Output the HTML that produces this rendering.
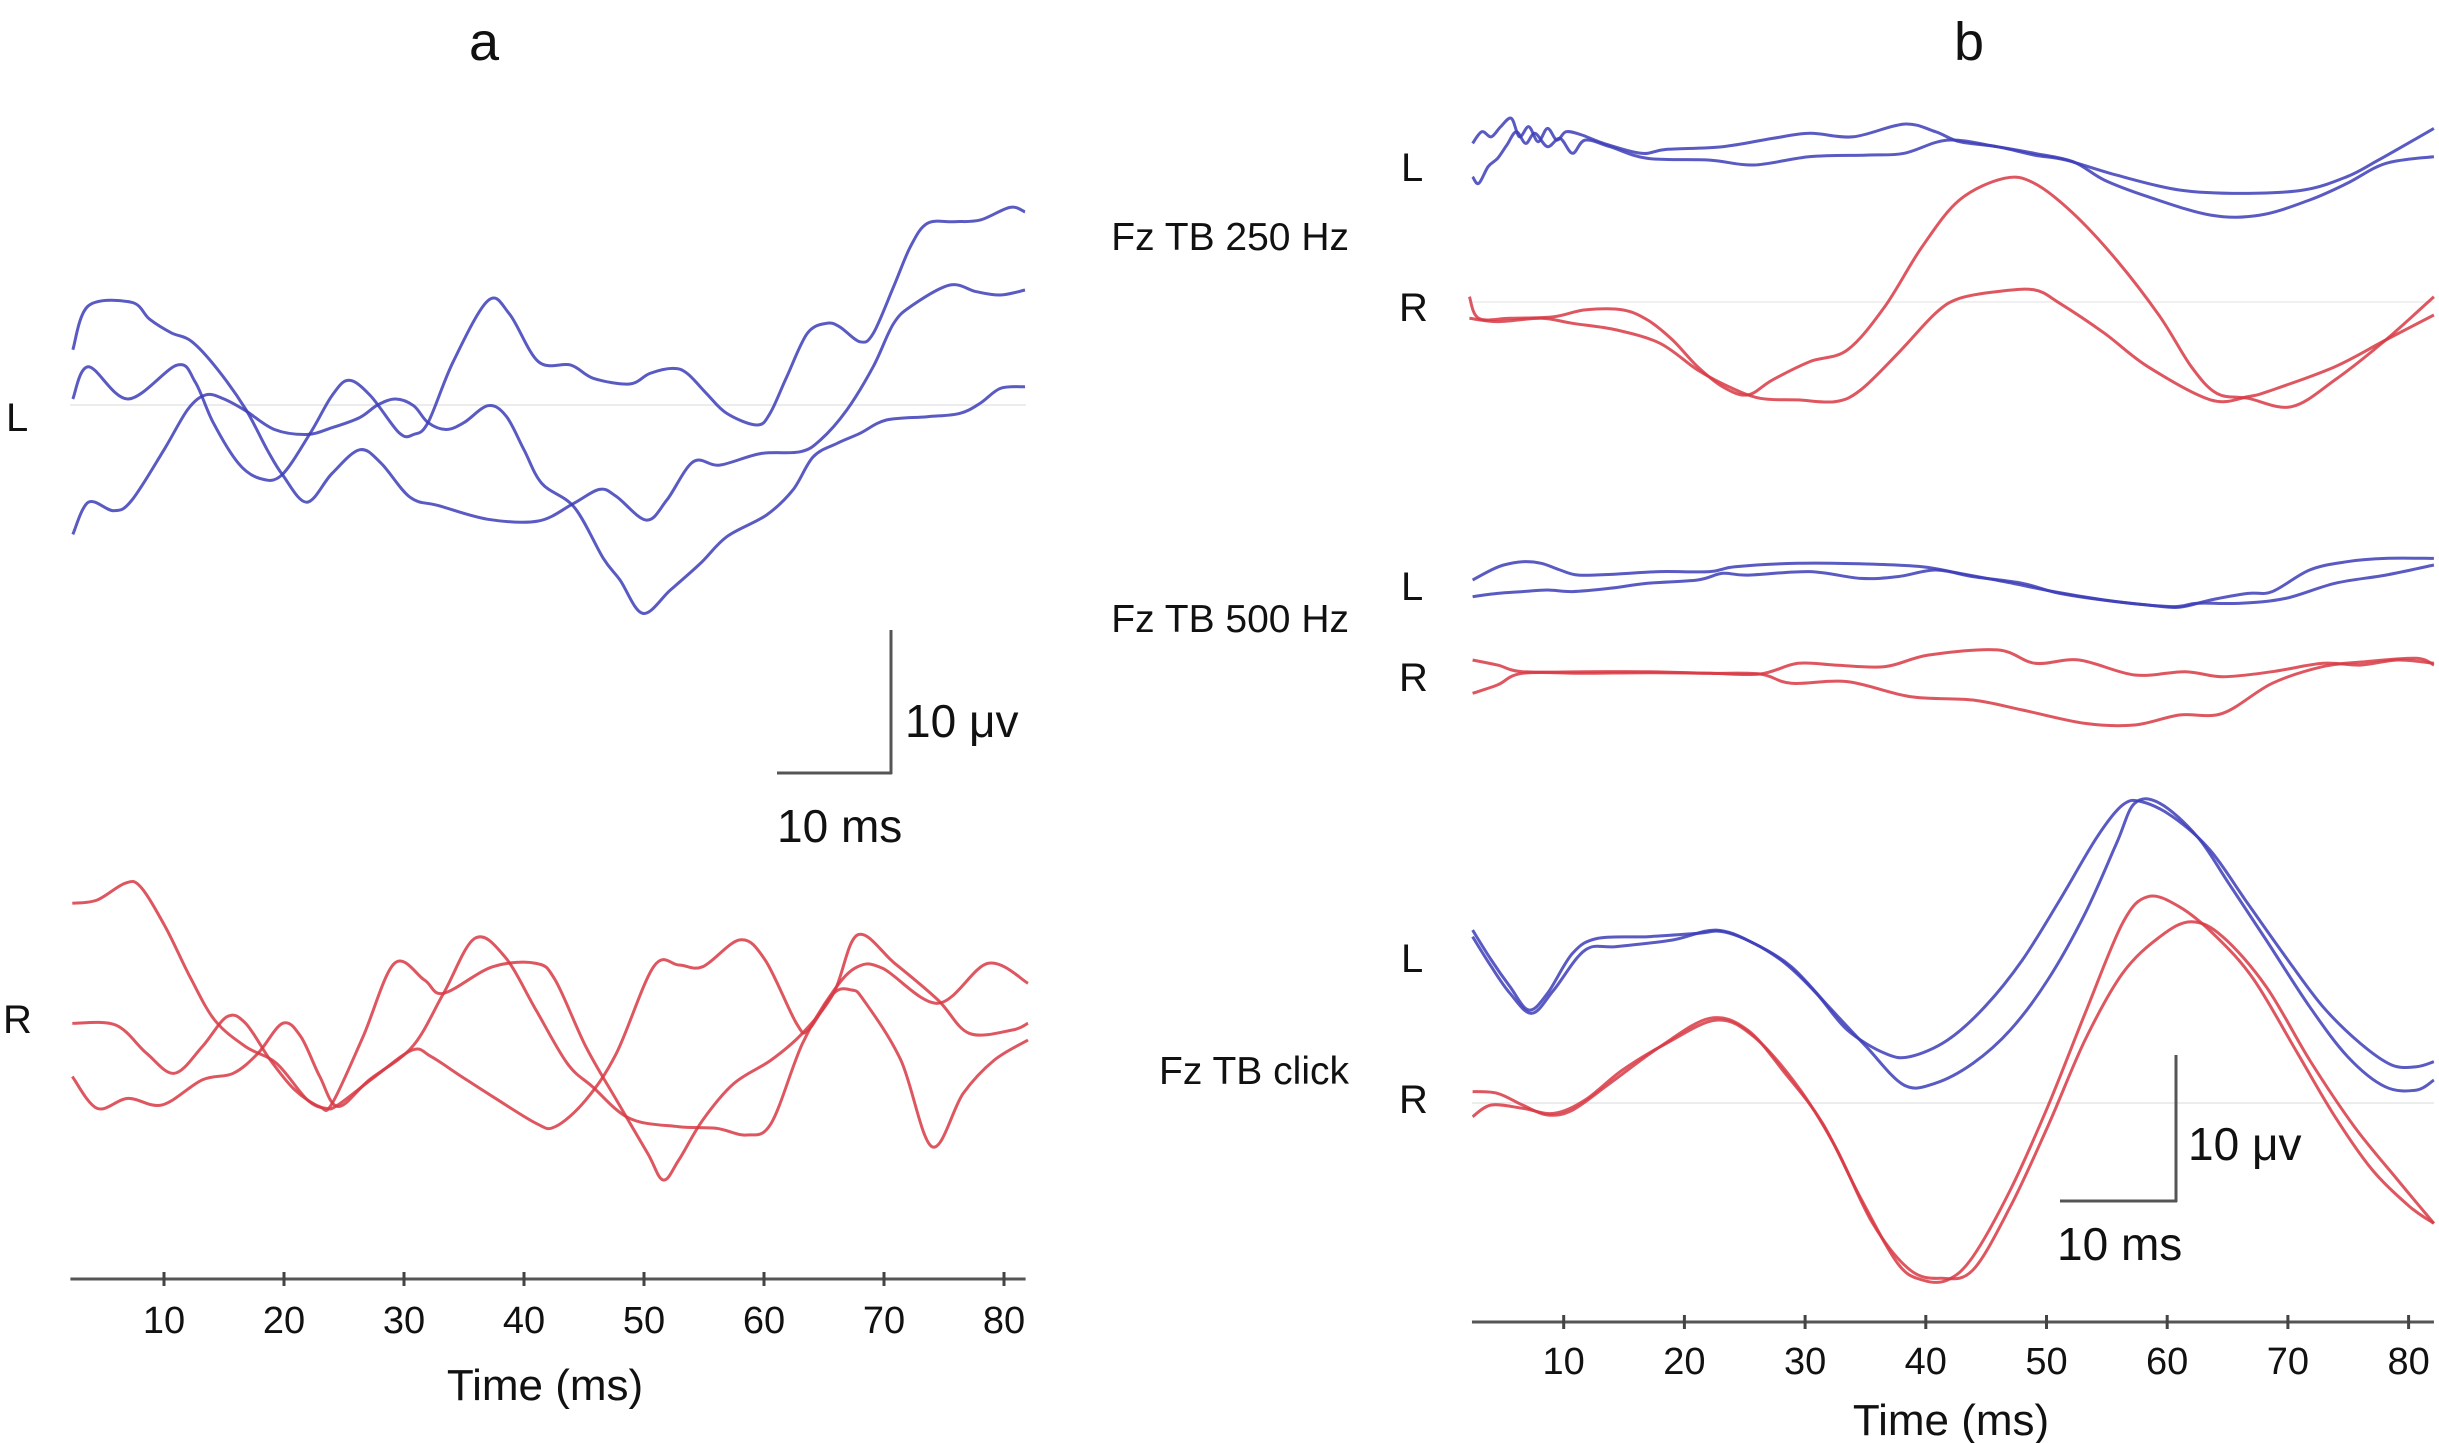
<!DOCTYPE html>
<html><head><meta charset="utf-8"><style>
html,body{margin:0;padding:0;background:#fff;}
svg{display:block;}
text{font-family:"Liberation Sans",Arial,sans-serif;fill:#111;}
</style></head><body>
<svg id="fig" width="2439" height="1443" viewBox="0 0 2439 1443" xmlns="http://www.w3.org/2000/svg">
<g id="static">
<text x="484" y="60" font-size="54" text-anchor="middle">a</text>
<text x="1969" y="60" font-size="54" text-anchor="middle">b</text>
<text x="6" y="431" font-size="40">L</text>
<text x="3" y="1033" font-size="40">R</text>
<text x="1349" y="250" font-size="39" text-anchor="end">Fz TB 250 Hz</text>
<text x="1349" y="632" font-size="39" text-anchor="end">Fz TB 500 Hz</text>
<text x="1349" y="1084" font-size="39" text-anchor="end">Fz TB click</text>
<text x="1401" y="181" font-size="40">L</text>
<text x="1399" y="321" font-size="40">R</text>
<text x="1401" y="600" font-size="40">L</text>
<text x="1399" y="691" font-size="40">R</text>
<text x="1401" y="972" font-size="40">L</text>
<text x="1399" y="1113" font-size="40">R</text>
<line x1="70" y1="405" x2="1026" y2="405" stroke="#ececec" stroke-width="2"/>
<line x1="1472" y1="302" x2="2434" y2="302" stroke="#f0f0f0" stroke-width="2"/>
<line x1="1472" y1="1103" x2="2434" y2="1103" stroke="#ececec" stroke-width="2"/>
<g stroke="#555" stroke-width="3" fill="none">
<line x1="891" y1="630" x2="891" y2="774"/><line x1="777" y1="773" x2="892" y2="773"/></g>
<text x="905" y="737" font-size="46">10 μv</text>
<text x="777" y="842" font-size="46">10 ms</text>
<g stroke="#555" stroke-width="3" fill="none">
<line x1="2176" y1="1055" x2="2176" y2="1202"/><line x1="2060" y1="1201" x2="2177" y2="1201"/></g>
<text x="2188" y="1160" font-size="46">10 μv</text>
<text x="2057" y="1260" font-size="46">10 ms</text>
<text x="545" y="1400" font-size="44" text-anchor="middle">Time (ms)</text>
<text x="1951" y="1435" font-size="44" text-anchor="middle">Time (ms)</text>
</g>
<g id="dyn"></g>
</svg>
<script>
const tickLabels = [10,20,30,40,50,60,70,80];
// Panel a, L (t ms, µV)
const aL1t = [2.4,3.7,7.3,8.8,10.6,12.3,14.4,16.8,18.6,19.9,21.9,24.0,26.3,28.1,30.5,32.9,37.0,41.2,44.1,46.3,47.7,50.2,51.9,54.1,56.3,59.7,63,64.7,66.9,69.1,70.8,72.4,75.5,77.7,79.7,81.75];
const aL1v = [3.86,6.94,7.18,6.0,5.05,4.45,2.56,-0.29,-3.13,-4.91,-6.8,-4.79,-3.13,-4.08,-6.45,-7.04,-7.99,-8.11,-6.9,-5.9,-6.4,-8.05,-6.65,-3.97,-4.2,-3.4,-3.27,-2.45,-0.35,2.68,5.7,6.99,8.39,7.92,7.69,8.04];
const aL2t = [2.4,3.7,7.0,11.1,12.6,14.1,16.2,18.0,19.8,22.2,24.0,25.4,27.2,29.6,30.8,32.0,34.1,37.0,38.8,41.2,43.9,45.8,48.8,50.5,52.4,53.6,55.2,56.9,59.4,60.5,61.9,63.6,65.2,66.3,68.0,69.1,70.8,72.2,73.6,75.8,78.0,80.5,81.75];
const aL2v = [0.42,2.68,0.42,2.79,1.61,-1.23,-4.08,-5.14,-4.91,-1.95,0.66,1.73,0.66,-1.95,-2.06,-1.23,3.03,7.3,6.35,3.03,2.79,1.86,1.47,2.21,2.56,2.21,0.81,-0.59,-1.4,-0.59,1.98,5.0,5.71,5.47,4.42,5.0,8.27,11.07,12.7,12.82,12.93,13.82,13.5];
const aL3t = [2.4,3.7,5.8,7.3,10.0,12.0,13.5,15.0,16.8,19.2,21.9,24.0,26.3,27.8,29.3,30.8,32.0,33.5,35.0,37.0,38.5,40.0,41.5,44.2,46.6,48,49.9,52.2,54.7,56.9,60.2,62.4,64.1,66.1,68.0,70.2,73.6,76.3,78.0,79.7,81.75];
const aL3v = [-9.05,-6.8,-7.39,-6.68,-3.13,-0.29,0.71,0.42,-0.4,-1.71,-2.06,-1.59,-0.88,0,0.42,-0.05,-1.23,-1.71,-1.23,-0.05,-0.76,-3.13,-5.5,-7.16,-10.71,-12.24,-14.57,-12.94,-11.08,-9.21,-7.7,-5.95,-3.62,-2.68,-1.98,-1.05,-0.82,-0.59,0.11,1.16,1.28];
// Panel a, R
const aR1t = [2.36,4.43,6.75,8.03,10.1,12.16,14.22,16.8,19.37,21.95,23.5,24.5,27.6,30.7,32.26,34.8,37.4,41.0,42.6,45.15,47.7,50.8,52.9,54.9,58.0,60.1,62.7,63.7,65.8,67.3,68.3,71.4,74.0,76.6,79.2,82.0];
const aR1v = [7.81,8.04,9.21,8.98,6.18,2.68,-0.35,-2.21,-3.38,-5.94,-6.53,-6.29,-4.3,-2.45,-2.91,-4.31,-5.71,-7.57,-7.81,-5.94,-2.68,3.38,3.5,3.38,5.25,3.84,-0.58,-1.05,1.52,1.75,1.05,-3.15,-9.21,-5.48,-3.15,-1.75];
const aR2t = [2.36,5.97,8.55,10.87,13.19,15.25,16.8,18.86,20.9,22.98,24.0,26.59,29.2,31.7,33.3,37.4,41.0,42.6,45.15,47.7,50.3,51.6,52.9,54.9,57.5,60.6,63.2,65.8,67.8,70.9,74.5,77.1,80.7,82.0];
const aR2v = [-0.58,-0.7,-2.68,-4.08,-2.21,-0.12,-0.58,-3.15,-5.24,-6.41,-6.2,-1.51,3.61,2.45,1.52,3.38,3.61,2.45,-2.21,-5.94,-9.67,-11.54,-10.14,-7.34,-4.78,-3.15,-1.28,1.52,5.6,3.61,1.05,-1.28,-1.05,-0.58];
const aR3t = [2.36,4.43,7.0,9.84,13.19,15.77,17.83,19.89,21.4,22.98,24.5,27.1,30.7,33.3,35.9,38.4,41.0,43.6,45.7,48.8,52.9,56.0,58.55,60.6,63.2,65.8,67.8,69.9,74.5,78.65,82.0];
const aR3v = [-4.31,-6.53,-5.83,-6.29,-4.54,-4.08,-2.68,-0.58,-1.51,-4.31,-6.4,-4.54,-2.21,1.52,5.36,4.08,0.35,-3.38,-5.01,-7.23,-7.81,-7.92,-8.39,-7.57,-2.0,1.7,3.38,3.26,0.82,3.61,2.22];
// Panel b, 250 Hz
const b250L1t = [2.45,3.22,4.0,4.78,5.66,6.33,7.11,7.88,8.66,9.44,10.21,11.51,13.32,16.43,18.5,23.16,27.3,30.4,34.0,38.2,40.8,42.8,45.9,49.0,51.6,55.8,61.0,66.2,71.3,74.9,77.5,82.1];
const b250L1v = [1.57,2.38,2.03,2.73,3.31,2.03,2.73,1.69,2.61,1.8,2.38,2.15,1.57,0.88,1.15,1.34,1.92,2.27,2.03,2.91,2.38,1.69,1.34,0.76,0.41,-0.63,-1.67,-1.9,-1.67,-0.74,0.41,2.61];
const b250L2t = [2.45,2.96,3.74,4.52,5.29,6.07,6.85,7.62,8.66,9.7,10.73,11.77,13.84,16.95,22.1,25.75,30.4,35.1,38.2,41.8,45.9,49.0,52.2,54.8,58.4,63.6,67.7,71.8,74.9,78.1,82.1];
const b250L2v = [-0.74,-1.21,-0.05,0.53,1.46,2.38,1.57,2.27,1.34,1.92,0.88,1.8,1.34,0.53,0.41,0.07,0.65,0.76,0.88,1.8,1.34,0.88,0.3,-0.98,-2.13,-3.41,-3.41,-2.36,-1.21,0.18,0.65];
const b250R1t = [2.19,2.96,5.55,9.18,11.77,14.87,16.95,19.02,21.09,23.16,25.23,27.3,30.4,33.5,36.6,39.7,42.8,46.5,49.0,52.2,55.8,59.4,62.0,64.1,66.7,70.3,73.9,78.1,82.1];
const b250R1v = [0.37,-1.13,-1.13,-1.02,-0.55,-0.55,-1.25,-2.64,-4.49,-5.88,-6.46,-5.41,-4.14,-3.33,-0.32,3.85,7.09,8.59,8.24,6.16,2.92,-1.02,-4.49,-6.34,-6.69,-7.27,-5.41,-2.64,0.37];
const b250R2t = [2.19,4.52,8.14,10.73,14.36,17.98,21.09,23.68,26.27,29.4,32.5,34.6,37.7,40.8,42.8,45.9,49.0,51.1,54.8,58.4,63.6,66.7,68.7,73.9,78.1,82.1];
const b250R2v = [-1.13,-1.36,-1.13,-1.48,-1.94,-2.87,-4.72,-5.88,-6.69,-6.8,-6.92,-6.11,-3.56,-0.78,0.26,0.72,0.84,-0.09,-2.17,-4.49,-6.8,-6.57,-6.11,-4.49,-2.64,-0.9];
// Panel b, 500 Hz
const b500L1t = [2.45,4.0,5.03,6.59,8.14,9.7,11.25,14.36,17.98,22.1,24.2,29.4,35.1,39.7,42.8,46.5,50.6,54.8,58.4,61.0,63.6,66.7,68.7,71.8,74.9,78.1,82.1];
const b500L1v = [0.35,1.04,1.39,1.62,1.51,1.04,0.69,0.76,0.93,0.93,1.27,1.51,1.46,1.27,0.81,0.23,-0.46,-1.04,-1.39,-1.55,-1.04,-0.58,-0.46,1.04,1.62,1.85,1.85];
const b500L2t = [2.45,4.52,6.59,8.66,10.73,13.84,16.95,21.09,23.16,25.23,30.4,34.6,37.7,40.8,43.9,48.0,51.1,55.8,60.45,62.5,66.1,69.8,73.9,78.1,82.1];
const b500L2v = [-0.81,-0.58,-0.46,-0.35,-0.46,-0.23,0.12,0.35,0.81,0.69,0.93,0.46,0.58,1.04,0.58,0.12,-0.58,-1.16,-1.5,-1.27,-1.27,-0.93,0.12,0.69,1.39];
const b500R1t = [2.45,4.52,6.59,11.77,16.95,22.1,26.27,29.4,32.5,36.6,40.25,45.95,49.05,52.7,57.3,61.5,64.6,68.7,72.9,76.0,79.1,82.1];
const b500R1v = [1.11,0.76,0.3,0.3,0.3,0.19,0.14,0.88,0.76,0.65,1.46,1.81,0.88,1.11,0.07,0.3,-0.05,0.3,0.88,0.76,1.11,0.88];
const b500R2t = [2.45,4.52,6.59,11.77,16.95,22.1,26.27,28.86,33.5,38.7,43.9,48.0,53.2,57.3,61.0,64.6,68.7,72.9,76.5,80.65,82.1];
const b500R2v = [-1.2,-0.62,0.19,0.19,0.23,0.19,0.14,-0.51,-0.39,-1.43,-1.67,-2.36,-3.29,-3.4,-2.71,-2.59,-0.51,0.65,1.0,1.23,0.76];
// Panel b, click
const bClkL1t = [2.45,4.0,5.55,7.11,8.66,10.73,12.8,16.95,21.09,23.16,25.75,28.34,30.93,33.5,36.6,38.7,41.8,44.9,48.0,51.1,54.2,56.3,57.86,60.45,63.55,66.66,69.8,72.9,76.0,78.6,80.65,82.1];
const bClkL1v = [1.87,-0.21,-2.06,-3.68,-2.52,0.25,1.29,1.41,1.64,1.76,0.95,-0.44,-2.52,-5.07,-6.69,-6.92,-5.77,-3.45,-0.21,3.96,8.35,10.55,10.79,9.74,7.43,3.73,0.02,-3.45,-6.0,-7.5,-7.62,-7.27];
const bClkL2t = [2.45,4.0,5.55,7.36,9.18,11.77,14.36,19.02,22.64,25.75,28.86,31.96,35.07,38.18,40.77,43.9,47.0,50.1,53.2,55.8,57.3,59.4,62.5,65.1,68.2,71.8,74.95,78.05,80.65,82.1];
const bClkL2v = [1.41,-0.67,-2.52,-3.91,-2.29,0.48,0.72,1.18,1.87,0.95,-0.67,-3.45,-6.23,-8.89,-8.77,-7.39,-5.07,-1.6,3.03,7.89,10.67,10.67,8.35,5.11,1.18,-3.45,-6.92,-9.01,-9.24,-8.54];
const bClkR1t = [2.45,4.52,6.59,8.66,10.73,13.84,17.98,22.1,25.23,28.34,31.45,34.55,37.66,39.73,41.8,43.9,47.0,50.1,53.2,56.3,58.4,61.0,64.07,67.2,70.8,73.9,77.0,80.1,82.1];
const bClkR1v = [0.72,0.6,-0.21,-0.9,-0.56,1.3,3.84,5.81,5.0,1.99,-1.48,-6.58,-11.2,-12.36,-12.36,-10.74,-6.11,-0.33,6.16,12.41,14.26,13.56,11.48,8.47,3.38,-1.02,-4.72,-7.27,-8.43];
const bClkR2t = [2.45,4.0,6.59,9.18,11.77,14.87,18.5,22.64,25.75,29.4,32.5,35.6,38.7,41.3,43.9,47.0,50.1,53.2,56.3,59.4,62.0,64.6,68.2,71.8,75.5,79.1,82.1];
const bClkR2v = [-1.02,-0.21,-0.44,-0.79,0.14,2.22,4.07,5.69,4.54,1.07,-3.1,-8.43,-11.67,-12.24,-11.67,-7.27,-1.71,4.31,8.93,11.48,12.52,11.48,8.01,2.92,-1.71,-5.42,-8.43];

const NS = 'http://www.w3.org/2000/svg';
const dyn = document.getElementById('dyn');
const xA = t => 44 + 12 * t;
const xB = t => 1443 + 12.07 * t;
const yScale = (base, ppu) => v => base - ppu * v;

function smoothPath(pts){
  let d = 'M' + pts[0][0].toFixed(1) + ',' + pts[0][1].toFixed(1);
  for (let i = 0; i < pts.length - 1; i++) {
    const p0 = pts[Math.max(0, i - 1)], p1 = pts[i], p2 = pts[i + 1], p3 = pts[Math.min(pts.length - 1, i + 2)];
    const c1x = p1[0] + (p2[0] - p0[0]) / 6, c1y = p1[1] + (p2[1] - p0[1]) / 6;
    const c2x = p2[0] - (p3[0] - p1[0]) / 6, c2y = p2[1] - (p3[1] - p1[1]) / 6;
    d += ' C' + c1x.toFixed(1) + ',' + c1y.toFixed(1) + ' ' + c2x.toFixed(1) + ',' + c2y.toFixed(1) + ' ' + p2[0].toFixed(1) + ',' + p2[1].toFixed(1);
  }
  return d;
}
function trace(name, ts, vs, xf, yf, color){
  const pts = ts.map((t, i) => [xf(t), yf(vs[i])]);
  const p = document.createElementNS(NS, 'path');
  p.setAttribute('d', smoothPath(pts));
  p.setAttribute('fill', 'none');
  p.setAttribute('stroke', color);
  p.setAttribute('stroke-width', '3');
  p.setAttribute('stroke-opacity', '0.85');
  
  
  dyn.appendChild(p);
}
const BLUE = '#3d3db8', RED = '#d83a44';
const yAL = yScale(405, 14.3), yAR = yScale(1015, 14.3);
trace('trace-a-l-1', aL1t, aL1v, xA, yAL, BLUE);
trace('trace-a-l-2', aL2t, aL2v, xA, yAL, BLUE);
trace('trace-a-l-3', aL3t, aL3v, xA, yAL, BLUE);
trace('trace-a-r-1', aR1t, aR1v, xA, yAR, RED);
trace('trace-a-r-2', aR2t, aR2v, xA, yAR, RED);
trace('trace-a-r-3', aR3t, aR3v, xA, yAR, RED);
const yB1L = yScale(166, 14.4), yB1R = yScale(302, 14.4), yB2L = yScale(585, 14.4), yB2R = yScale(676, 14.4), yB3L = yScale(957, 14.4), yB3R = yScale(1102, 14.4);
trace('trace-250-l-1', b250L1t, b250L1v, xB, yB1L, BLUE);
trace('trace-250-l-2', b250L2t, b250L2v, xB, yB1L, BLUE);
trace('trace-250-r-1', b250R1t, b250R1v, xB, yB1R, RED);
trace('trace-250-r-2', b250R2t, b250R2v, xB, yB1R, RED);
trace('trace-500-l-1', b500L1t, b500L1v, xB, yB2L, BLUE);
trace('trace-500-l-2', b500L2t, b500L2v, xB, yB2L, BLUE);
trace('trace-500-r-1', b500R1t, b500R1v, xB, yB2R, RED);
trace('trace-500-r-2', b500R2t, b500R2v, xB, yB2R, RED);
trace('trace-click-l-1', bClkL1t, bClkL1v, xB, yB3L, BLUE);
trace('trace-click-l-2', bClkL2t, bClkL2v, xB, yB3L, BLUE);
trace('trace-click-r-1', bClkR1t, bClkR1v, xB, yB3R, RED);
trace('trace-click-r-2', bClkR2t, bClkR2v, xB, yB3R, RED);

function axis(name, xf, y, t0, t1, labelY){
  const g = document.createElementNS(NS, 'g');
  
  
  const l = document.createElementNS(NS, 'line');
  l.setAttribute('x1', xf(t0)); l.setAttribute('x2', xf(t1));
  l.setAttribute('y1', y); l.setAttribute('y2', y);
  l.setAttribute('stroke', '#555'); l.setAttribute('stroke-width', '3');
  
  
  g.appendChild(l);
  tickLabels.forEach(v => {
    const tk = document.createElementNS(NS, 'line');
    tk.setAttribute('x1', xf(v)); tk.setAttribute('x2', xf(v));
    tk.setAttribute('y1', y - 7); tk.setAttribute('y2', y + 7);
    tk.setAttribute('stroke', '#444'); tk.setAttribute('stroke-width', '3');
    
    
    g.appendChild(tk);
    const tx = document.createElementNS(NS, 'text');
    tx.setAttribute('x', xf(v)); tx.setAttribute('y', labelY);
    tx.setAttribute('font-size', '38'); tx.setAttribute('text-anchor', 'middle');
    tx.textContent = v;
    
    
    g.appendChild(tx);
  });
  dyn.appendChild(g);
}
axis('x-axis-a', xA, 1279, 2.2, 81.8, 1333);
axis('x-axis-b', xB, 1322, 2.4, 82.1, 1374);
</script>
</body></html>
